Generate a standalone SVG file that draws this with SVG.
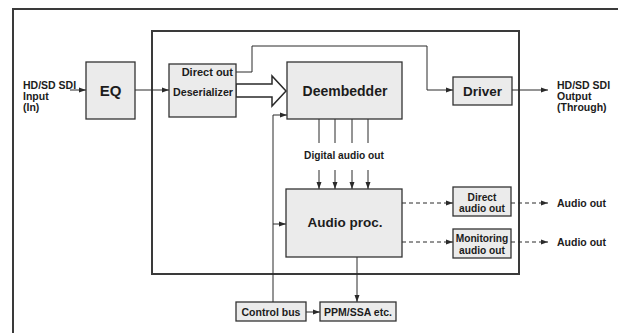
<svg xmlns="http://www.w3.org/2000/svg" width="618" height="333" viewBox="0 0 618 333">
<style>
text{font-family:"Liberation Sans",Arial,sans-serif;font-weight:bold;fill:#1c1c1c}
.box{fill:#ebebeb;stroke:#333;stroke-width:1.3}
.frame{fill:none;stroke:#3a3a3a;stroke-width:2}
.ln{fill:none;stroke:#2a2a2a;stroke-width:1}
.dash{fill:none;stroke:#2a2a2a;stroke-width:1;stroke-dasharray:4,3}
.big{font-size:14px}
.sm{font-size:10.5px}
.tw{font-size:10.2px}
</style>
<defs>
<marker id="ah" markerUnits="userSpaceOnUse" markerWidth="8" markerHeight="6" refX="7" refY="3" orient="auto">
<path d="M0,0.5 L7,3 L0,5.5 z" fill="#2a2a2a"/>
</marker>
</defs>
<g id="frames">
<path class="frame" d="M13,333 V9 H618"/>
<rect class="frame" x="152" y="31" width="367" height="243"/>
</g>
<g id="connectors">
<path class="ln" d="M70,90 H86" marker-end="url(#ah)"/>
<path class="ln" d="M135,90 H169" marker-end="url(#ah)"/>
<path class="ln" d="M236,72 H252 V46 H427 V90 H453" marker-end="url(#ah)"/>
<path class="ln" d="M512,90 H548" marker-end="url(#ah)"/>
<polygon points="236,84 272,84 272,76 286,91 272,106 272,97 236,97" fill="#fff" stroke="#2a2a2a" stroke-width="1.5"/>
<path class="ln" d="M273,302 V115 H287" marker-end="url(#ah)"/>
<path class="ln" d="M273,224 H286" marker-end="url(#ah)"/>
<path class="ln" d="M319,119 V143 M335,119 V143 M352,119 V143 M368,119 V143"/>
<path class="ln" d="M319,170 V189" marker-end="url(#ah)"/>
<path class="ln" d="M335,170 V189" marker-end="url(#ah)"/>
<path class="ln" d="M352,170 V189" marker-end="url(#ah)"/>
<path class="ln" d="M368,170 V189" marker-end="url(#ah)"/>
<path class="dash" d="M402,203 H453" marker-end="url(#ah)"/>
<path class="dash" d="M402,242 H453" marker-end="url(#ah)"/>
<path class="dash" d="M511,203 H548" marker-end="url(#ah)"/>
<path class="dash" d="M511,242 H548" marker-end="url(#ah)"/>
<path class="ln" d="M357,257 V302" marker-end="url(#ah)"/>
<path class="ln" d="M306,312 H320" marker-end="url(#ah)"/>
</g>
<g id="input">
<text class="sm" x="23" y="89">HD/SD SDI</text>
<text class="sm" x="23" y="100">Input</text>
<text class="sm" x="23" y="111">(In)</text>
</g>
<g id="eq">
<rect class="box" x="86" y="62" width="49" height="57"/>
<text x="110.5" y="96" text-anchor="middle" font-size="15">EQ</text>
</g>
<g id="deserializer">
<rect class="box" x="169" y="64" width="67" height="53"/>
<text x="233" y="76" font-size="11" text-anchor="end">Direct out</text>
<text x="233" y="96" font-size="10.7" text-anchor="end">Deserializer</text>
</g>
<g id="deembedder">
<rect class="box" x="287" y="62" width="115" height="57"/>
<text class="big" x="345" y="96" text-anchor="middle">Deembedder</text>
</g>
<g id="driver">
<rect class="box" x="453" y="77" width="59" height="28"/>
<text x="482.5" y="96" font-size="13.5" text-anchor="middle">Driver</text>
</g>
<g id="output">
<text class="sm" x="557" y="89">HD/SD SDI</text>
<text class="sm" x="557" y="100">Output</text>
<text class="sm" x="557" y="111">(Through)</text>
</g>
<g id="digital-audio-label">
<text x="344" y="159" font-size="10.2" text-anchor="middle">Digital audio out</text>
</g>
<g id="audio-proc">
<rect class="box" x="286" y="189" width="116" height="68"/>
<text x="345" y="227" font-size="13.5" text-anchor="middle">Audio proc.</text>
</g>
<g id="direct-audio-out">
<rect class="box" x="453" y="187" width="58" height="29"/>
<text class="tw" x="482" y="200.5" text-anchor="middle">Direct</text>
<text class="tw" x="482" y="211.5" text-anchor="middle">audio out</text>
</g>
<g id="monitoring-audio-out">
<rect class="box" x="453" y="229" width="58" height="29"/>
<text class="tw" x="482" y="242" text-anchor="middle">Monitoring</text>
<text class="tw" x="482" y="253.5" text-anchor="middle">audio out</text>
</g>
<g id="audio-out-labels">
<text class="sm" x="557" y="207">Audio out</text>
<text class="sm" x="557" y="246">Audio out</text>
</g>
<g id="control-bus">
<rect class="box" x="236" y="302" width="70" height="19"/>
<text class="sm" x="271" y="315.5" text-anchor="middle">Control bus</text>
</g>
<g id="ppm-ssa">
<rect class="box" x="320" y="302" width="76" height="19"/>
<text class="sm" x="358" y="315.5" text-anchor="middle">PPM/SSA etc.</text>
</g>
</svg>
